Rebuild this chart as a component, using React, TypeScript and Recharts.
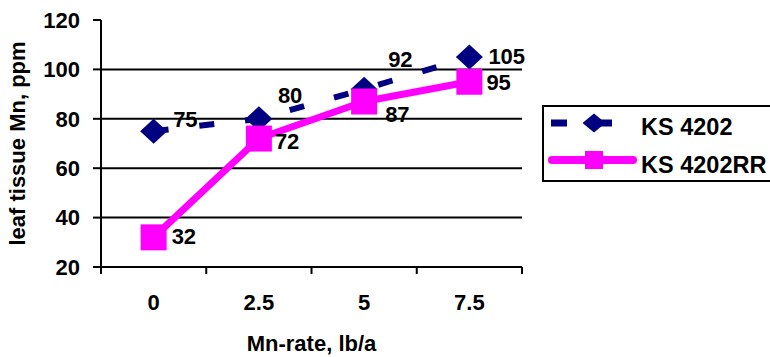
import React from 'react';
import { LineChart, Line, XAxis, YAxis, CartesianGrid, LabelList } from 'recharts';

// Leaf tissue Mn by Mn application rate, two soybean varieties
const rates = ['0', '2.5', '5', '7.5'];
const ks4202 = [75, 80, 92, 105];
const ks4202RR = [32, 72, 87, 95];
const yTicks = [20, 40, 60, 80, 100, 120];
const seriesNames = ['KS 4202', 'KS 4202RR'];
const xTitle = 'Mn-rate, lb/a';
const yTitle = 'leaf tissue Mn, ppm';

const data = rates.map((rate, i) => ({ rate, a: ks4202[i], b: ks4202RR[i] }));

const NAVY = '#000080';
const MAGENTA = '#FF00FF';
const GRAY = '#808080';
const FONT = '"Liberation Sans", Arial, Helvetica, sans-serif';

const W = 770;
const H = 357;
const PLOT_LEFT = 101;
const PLOT_TOP = 20;
const PLOT_RIGHT = 522;
const X_AXIS_H = 90;
const X_TICK_SIZE = 7;
const X_TICK_MARGIN = 20.5;
// half of one category slot; points sit in the middle of their slot
const HALF_SLOT = (PLOT_RIGHT - PLOT_LEFT) / rates.length / 2;

const textStyle = { fill: '#000', fontFamily: FONT, fontWeight: 700, fontSize: 22 };

// hand-placed offsets of the value labels relative to their points
const navyLabelShift: [number, number][] = [
  [19.5, -12],
  [19, -24],
  [24, -30],
  [19, -1],
];
const magentaLabelShift: [number, number][] = [
  [18, -1],
  [16, 2],
  [21, 12],
  [17, 0],
];

const DiamondDot = (props: any) => {
  const { cx, cy, index } = props;
  if (cx == null || cy == null) return <g key={`d${index}`} />;
  return (
    <path
      key={`d${index}`}
      d={`M${cx},${cy - 12.5} L${cx + 13.5},${cy} L${cx},${cy + 12.5} L${cx - 13.5},${cy} Z`}
      fill={NAVY}
    />
  );
};

const SquareDot = (props: any) => {
  const { cx, cy, index } = props;
  if (cx == null || cy == null) return <g key={`s${index}`} />;
  return <rect key={`s${index}`} x={cx - 13} y={cy - 13} width={26} height={26} fill={MAGENTA} />;
};

const makeValueLabel = (shift: [number, number][]) => (props: any) => {
  const { x, y, value, index } = props;
  const [dx, dy] = shift[index] || [18, 0];
  return (
    <text x={x + dx} y={y + dy + 8} textAnchor="start" {...textStyle}>
      {value}
    </text>
  );
};

const XTick = (props: any) => {
  const { x, y, payload, index } = props;
  const axisY = y - X_TICK_SIZE - X_TICK_MARGIN;
  const isLast = index === rates.length - 1;
  return (
    <g>
      <line x1={x - HALF_SLOT} y1={axisY} x2={x - HALF_SLOT} y2={axisY + X_TICK_SIZE} stroke="#000" strokeWidth={2} />
      {isLast && (
        <line x1={x + HALF_SLOT} y1={axisY} x2={x + HALF_SLOT} y2={axisY + X_TICK_SIZE} stroke="#000" strokeWidth={2} />
      )}
      <text x={x} y={y + 15.6} textAnchor="middle" {...textStyle}>
        {payload.value}
      </text>
    </g>
  );
};

const YTitle = (props: any) => {
  const vb = props.viewBox || {};
  const cx = vb.x + 25;
  const cy = vb.y + vb.height / 2;
  return (
    <text x={cx} y={cy} transform={`rotate(-90 ${cx} ${cy})`} textAnchor="middle" {...textStyle}>
      {yTitle}
    </text>
  );
};

const XTitle = (props: any) => {
  const vb = props.viewBox || {};
  return (
    <text x={vb.x + vb.width / 2} y={vb.y + 83.5} textAnchor="middle" {...textStyle}>
      {xTitle}
    </text>
  );
};

const LegendBox = () => (
  <svg width={230} height={78} style={{ position: 'absolute', left: 541, top: 104, overflow: 'hidden' }}>
    <rect x={2} y={2} width={240} height={75} fill="#fff" stroke="#000" strokeWidth={2} />
    {/* KS 4202 */}
    <line x1={10} y1={19} x2={92} y2={19} stroke={NAVY} strokeWidth={7} strokeDasharray="16 29" />
    <path d="M53,9.5 L64.5,19 L53,28.5 L41.5,19 Z" fill={NAVY} />
    <text x={100} y={31} fontFamily={FONT} fontWeight={700} fontSize={23.5} fill="#000">
      {seriesNames[0]}
    </text>
    {/* KS 4202RR */}
    <line x1={11} y1={56} x2={92} y2={56} stroke={MAGENTA} strokeWidth={8} strokeLinecap="round" />
    <rect x={44} y={47} width={18} height={18} fill={MAGENTA} />
    <text x={100} y={68.5} fontFamily={FONT} fontWeight={700} fontSize={23.5} fill="#000">
      {seriesNames[1]}
    </text>
  </svg>
);

export default function App() {
  const yMin = yTicks[0];
  const yMax = yTicks[yTicks.length - 1];
  const innerGrid = yTicks.filter((v) => v !== yMin && v !== yMax);
  return (
    <div style={{ position: 'absolute', left: 0, top: 0, width: W, height: H, background: '#fff' }}>
      <LineChart
        width={W}
        height={H}
        data={data}
        margin={{ top: PLOT_TOP, right: W - PLOT_RIGHT, bottom: 0, left: 0 }}
      >
        <CartesianGrid vertical={false} horizontalValues={innerGrid} stroke="#000" strokeWidth={2} />
        {/* grey frame on the top and right of the plot area */}
        <XAxis
          xAxisId="frameTop"
          orientation="top"
          dataKey="rate"
          height={0}
          tick={false}
          tickLine={false}
          axisLine={{ stroke: GRAY, strokeWidth: 2 }}
        />
        <YAxis
          yAxisId="frameRight"
          orientation="right"
          width={0}
          domain={[yMin, yMax]}
          tick={false}
          tickLine={false}
          axisLine={{ stroke: GRAY, strokeWidth: 2 }}
        />
        <XAxis
          dataKey="rate"
          interval={0}
          height={X_AXIS_H}
          padding={{ left: HALF_SLOT, right: HALF_SLOT }}
          tickSize={X_TICK_SIZE}
          tickMargin={X_TICK_MARGIN}
          tickLine={false}
          axisLine={{ stroke: '#000', strokeWidth: 2 }}
          tick={<XTick />}
          label={{ content: <XTitle /> }}
        />
        <YAxis
          width={PLOT_LEFT}
          domain={[yMin, yMax]}
          ticks={yTicks}
          interval={0}
          tickSize={8}
          tickMargin={13}
          axisLine={{ stroke: '#000', strokeWidth: 2 }}
          tickLine={{ stroke: '#000', strokeWidth: 2 }}
          tick={textStyle}
          label={{ content: <YTitle /> }}
        />
        <Line
          type="linear"
          dataKey="a"
          name={seriesNames[0]}
          stroke={NAVY}
          strokeWidth={6}
          strokeDasharray="15 31"
          dot={DiamondDot}
          activeDot={false}
          isAnimationActive={false}
        >
          <LabelList dataKey="a" content={makeValueLabel(navyLabelShift)} />
        </Line>
        <Line
          type="linear"
          dataKey="b"
          name={seriesNames[1]}
          stroke={MAGENTA}
          strokeWidth={7}
          strokeLinejoin="round"
          dot={SquareDot}
          activeDot={false}
          isAnimationActive={false}
        >
          <LabelList dataKey="b" content={makeValueLabel(magentaLabelShift)} />
        </Line>
      </LineChart>
      <LegendBox />
    </div>
  );
}
